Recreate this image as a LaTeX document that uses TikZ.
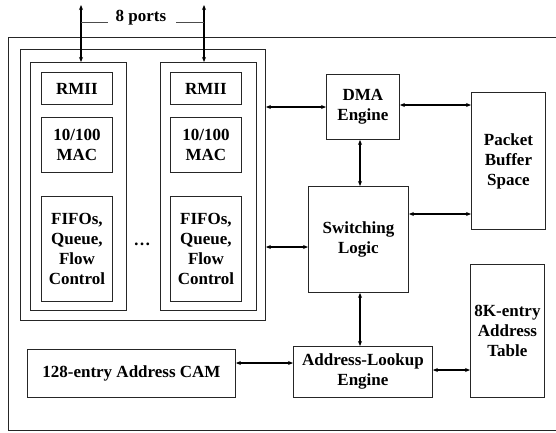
\documentclass[tikz,border=0pt]{standalone}
\usepackage{fontspec}
\setmainfont{Liberation Serif}
\usetikzlibrary{arrows.meta}
\begin{document}
\begin{tikzpicture}[x=1pt,y=-1pt,
  box/.style={draw=black!85,line width=0.9pt,anchor=north west,inner sep=0pt,align=center,
    font=\fontsize{17}{20}\selectfont\bfseries},
  frame/.style={draw=black!85,line width=0.9pt},
  arr/.style={{Stealth[length=5pt,width=4pt]}-{Stealth[length=5pt,width=4pt]},line width=1.2pt,black},
  tick/.style={draw=black!70,line width=1pt}]
\useasboundingbox (0,0) rectangle (556,432);
% outer frame (right side beyond picture)
\draw[frame] (557,37) -- (8,37) -- (8,430) -- (557,430);
% port group
\node[box,minimum width=245pt,minimum height=271pt] (grp) at (20,49) {};
\node[box,minimum width=96pt,minimum height=248pt] (colA) at (30,62) {};
\node[box,minimum width=96pt,minimum height=248pt] (colB) at (160,62) {};
\node[box,minimum width=71pt,minimum height=32pt] (rmiiA) at (41,72) {RMII};
\node[box,minimum width=71pt,minimum height=32pt] (rmiiB) at (170,72) {RMII};
\node[box,minimum width=71pt,minimum height=55pt] (macA) at (41,117) {10/100\\MAC};
\node[box,minimum width=71pt,minimum height=55pt] (macB) at (170,117) {10/100\\MAC};
\node[box,minimum width=71pt,minimum height=105pt] (fifoA) at (41,196) {FIFOs,\\Queue,\\Flow\\Control};
\node[box,minimum width=71pt,minimum height=105pt] (fifoB) at (170,196) {FIFOs,\\Queue,\\Flow\\Control};
\node[font=\fontsize{17}{20}\selectfont\bfseries] (dots) at (142,244) {\dots};
% right side blocks
\node[box,minimum width=73pt,minimum height=65pt] (dma) at (326,74) {DMA\\Engine};
\node[box,minimum width=74pt,minimum height=137pt] (pbs) at (471,92) {Packet\\Buffer\\Space};
\node[box,minimum width=100pt,minimum height=106pt] (sw) at (308,186) {Switching\\Logic};
\node[box,minimum width=74pt,minimum height=133pt] (tbl) at (470,264) {8K-entry\\Address\\Table};
\node[box,minimum width=139pt,minimum height=51pt] (ale) at (293,346) {Address-Lookup\\Engine};
\node[box,minimum width=208pt,minimum height=48pt] (cam) at (27,349) {128-entry Address CAM};
% ports
\coordinate (pA) at (81,5);
\coordinate (pB) at (204,5);
\draw[arr] (pA) -- (pA |- colA.north);
\draw[arr] (pB) -- (pB |- colB.north);
\node[font=\fontsize{17}{20}\selectfont\bfseries,inner sep=0pt] (lbl) at (141,18) {8 ports};
\coordinate (lA) at (108,22);
\coordinate (lB) at (176,22);
\draw[tick] (pA |- lA) -- (lA);
\draw[tick] (lB) -- (pB |- lB);
% connectors
\draw[arr] (grp.east |- 0,107) -- (dma.west |- 0,107);
\draw[arr] (dma.east |- 0,105) -- (pbs.west |- 0,105);
\draw[arr] (dma.south -| 360,0) -- (sw.north -| 360,0);
\draw[arr] (sw.east |- 0,214) -- (pbs.west |- 0,214);
\draw[arr] (grp.east |- 0,247) -- (sw.west |- 0,247);
\draw[arr] (sw.south -| 360,0) -- (ale.north -| 360,0);
\draw[arr] (ale.east |- 0,370) -- (tbl.west |- 0,370);
\draw[arr] (cam.east |- 0,363) -- (ale.west |- 0,363);
\end{tikzpicture}
\end{document}
